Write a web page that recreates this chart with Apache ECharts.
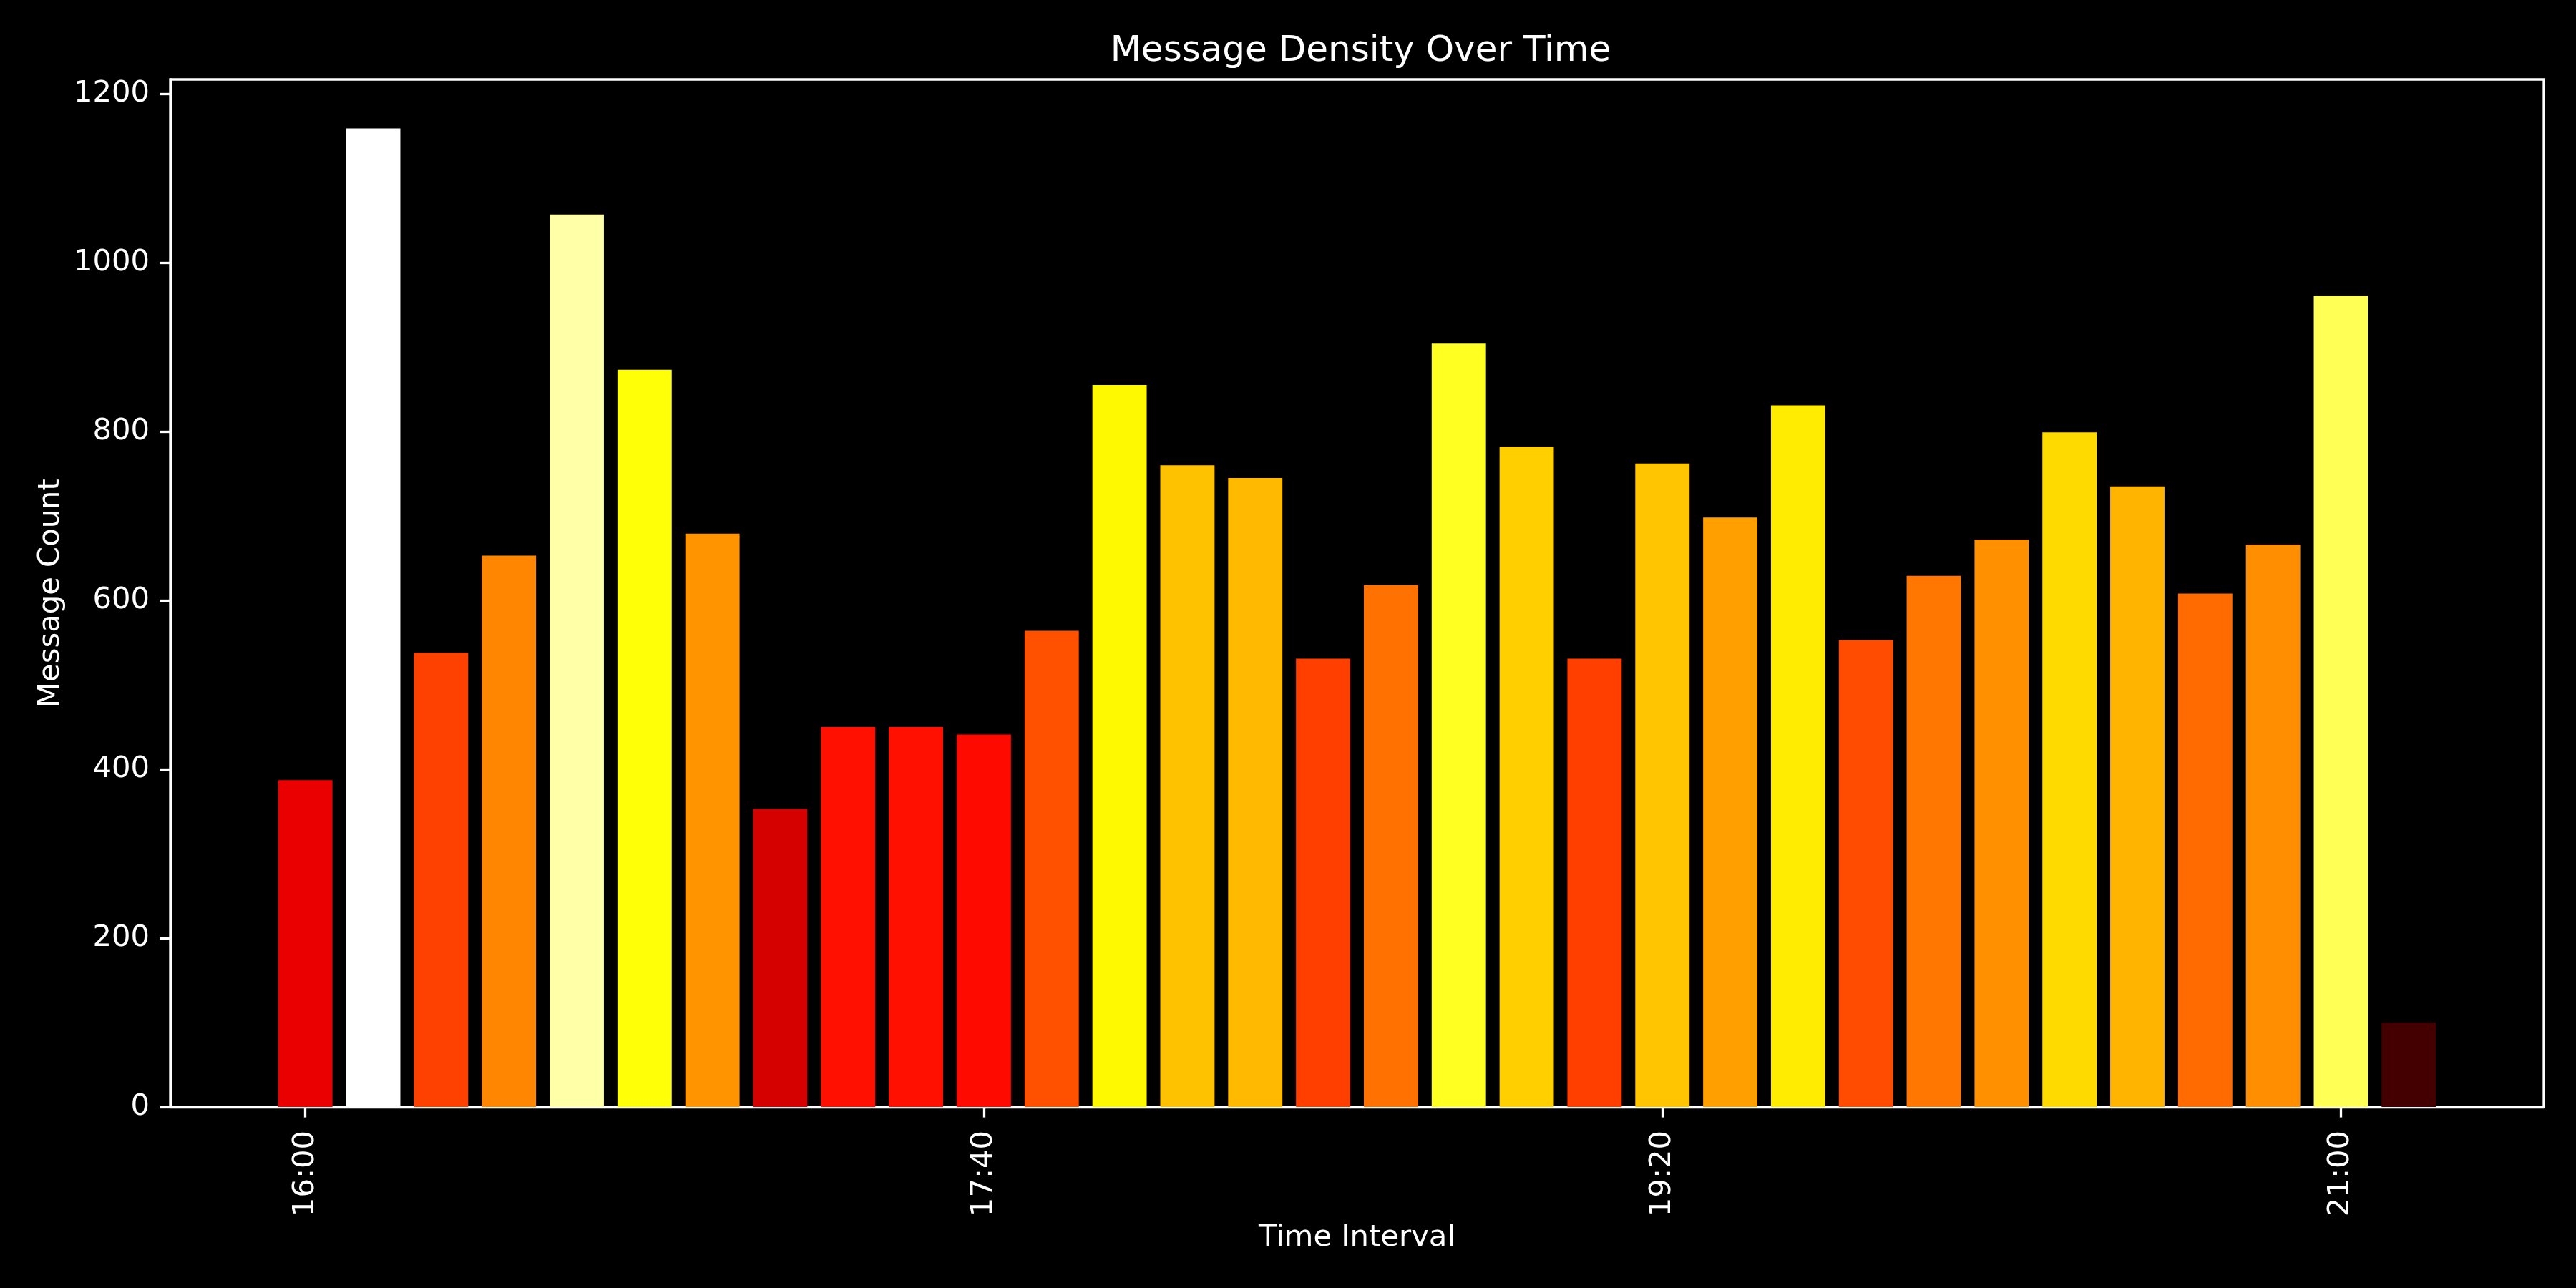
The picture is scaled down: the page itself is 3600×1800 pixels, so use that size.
<!DOCTYPE html>
<html>
<head>
<meta charset="utf-8">
<script src="https://cdn.jsdelivr.net/npm/echarts@6/dist/echarts.min.js"></script>
<style>
html,body{margin:0;padding:0;background:#000;}
#chart{width:3600px;height:1800px;}
</style>
</head>
<body>
<div id="chart"></div>
<script>
// ---- data ----
const timeLabels = ['16:00','16:10','16:20','16:30','16:40','16:50','17:00','17:10','17:20','17:30',
  '17:40','17:50','18:00','18:10','18:20','18:30','18:40','18:50','19:00','19:10',
  '19:20','19:30','19:40','19:50','20:00','20:10','20:20','20:30','20:40','20:50',
  '21:00','21:10'];
const messageCounts = [387,1159,538,653,1057,873,679,353,450,450,
  441,564,855,760,745,531,618,904,782,531,
  762,698,831,553,629,672,799,735,608,666,
  961,100];
const xTickLabels = ['16:00','17:40','19:20','21:00'];
const yTickValues = [0,200,400,600,800,1000,1200];

// ---- helpers ----
function toMin(s){ const p = s.split(':'); return (+p[0])*60 + (+p[1]); }
const base = toMin(timeLabels[0]);
function fmtTime(m){ const t = Math.round(m) + base; const h = Math.floor(t/60), mm = t%60; return h + ':' + (mm<10?'0':'') + mm; }

// matplotlib 'hot' colormap (256-entry LUT)
function hot(t){
  let i = Math.floor(Math.max(0, Math.min(1, t)) * 256); if (i > 255) i = 255;
  const x = i / 255;
  const r = x < 0.365079 ? 0.0416 + (1 - 0.0416) * x / 0.365079 : 1;
  const g = x < 0.365079 ? 0 : (x < 0.746032 ? (x - 0.365079) / (0.746032 - 0.365079) : 1);
  const b = x < 0.746032 ? 0 : (x - 0.746032) / (1 - 0.746032);
  const c = v => Math.round(v * 255);
  return 'rgb(' + c(r) + ',' + c(g) + ',' + c(b) + ')';
}

const maxCount = Math.max(...messageCounts);
const xs = timeLabels.map(t => toMin(t) - base);
const step = xs[1] - xs[0];
const barFrac = 0.8;
const leftEdge = xs[0] - step*barFrac/2, rightEdge = xs[xs.length-1] + step*barFrac/2;
const pad = (rightEdge - leftEdge) * 0.05;
const xTickValues = xTickLabels.map(t => toMin(t) - base);

const seriesData = xs.map((x, i) => ({
  value: [x, messageCounts[i]],
  itemStyle: { color: hot(messageCounts[i] / maxCount) }
}));

const GRID = { left: 238, right: 45, top: 111, bottom: 253 };
const W = 3600;
const FONT = 'DejaVu Sans';
const chart = echarts.init(document.getElementById('chart'), null, {renderer: 'canvas'});
chart.setOption({
  backgroundColor: '#000000',
  animation: false,
  title: {
    text: 'Message Density Over Time',
    left: (GRID.left + (W - GRID.right)) / 2,
    textAlign: 'center',
    top: 42,
    textStyle: { color: '#ffffff', fontFamily: FONT, fontSize: 50, fontWeight: 'normal' }
  },
  grid: Object.assign({
    show: true, borderColor: '#ffffff', borderWidth: 3.3, backgroundColor: 'transparent'
  }, GRID),
  xAxis: {
    type: 'value',
    min: leftEdge - pad,
    max: rightEdge + pad,
    name: 'Time Interval',
    nameLocation: 'middle',
    nameGap: 162,
    nameTextStyle: { color: '#ffffff', fontFamily: FONT, fontSize: 41.7 },
    axisLine: { show: true, onZero: false, lineStyle: { color: '#ffffff', width: 3.3 } },
    axisTick: { show: true, inside: false, length: 14.6, customValues: xTickValues,
      lineStyle: { color: '#ffffff', width: 3.3 } },
    axisLabel: { show: true, rotate: 90, margin: 33, customValues: xTickValues,
      color: '#ffffff', fontFamily: FONT, fontSize: 41.7,
      formatter: v => fmtTime(v) },
    splitLine: { show: false }
  },
  yAxis: {
    type: 'value',
    min: 0,
    max: maxCount * 1.05,
    interval: 200,
    name: 'Message Count',
    nameLocation: 'middle',
    nameGap: 143,
    nameTextStyle: { color: '#ffffff', fontFamily: FONT, fontSize: 41.7 },
    axisLine: { show: true, onZero: false, lineStyle: { color: '#ffffff', width: 3.3 } },
    axisTick: { show: true, inside: false, length: 14.6, customValues: yTickValues,
      lineStyle: { color: '#ffffff', width: 3.3 } },
    axisLabel: { show: true, margin: 29, customValues: yTickValues,
      color: '#ffffff', fontFamily: FONT, fontSize: 41.7,
      formatter: v => String(v) },
    splitLine: { show: false }
  },
  series: [{
    type: 'bar',
    data: seriesData,
    barWidth: (barFrac*100) + '%',
    itemStyle: { borderWidth: 0 }
  }]
});
</script>
</body>
</html>
